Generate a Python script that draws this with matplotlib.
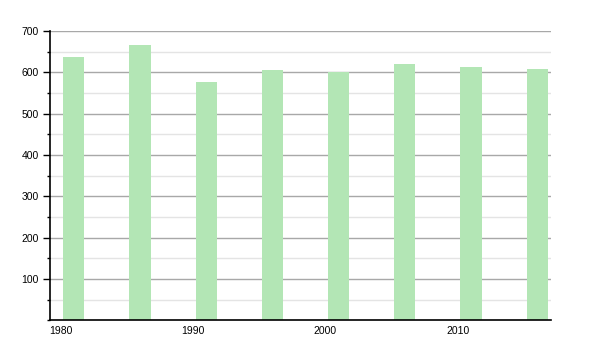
import matplotlib
matplotlib.use("Agg")
import matplotlib.pyplot as plt
from matplotlib.ticker import MultipleLocator, FixedLocator

years = [1981, 1986, 1991, 1996, 2001, 2006, 2011, 2016]
population = [638, 666, 577, 606, 600, 620, 613, 607]
x_ticks = [1980, 1990, 2000, 2010]
y_ticks = [100, 200, 300, 400, 500, 600, 700]

plt.rcParams['font.family'] = ['Liberation Sans', 'DejaVu Sans']

fig = plt.figure(figsize=(6, 3.5), dpi=100)
ax = fig.add_axes([50/600, (350-320.3)/350, 501/600, (320.3-31)/350])

ax.bar(years, population, width=1.6, color='#b3e6b5', edgecolor='none', zorder=2)

ax.set_xlim(1979.2, 2017.05)
ax.set_ylim(0, 700)
ax.set_axisbelow(True)

ax.yaxis.set_major_locator(FixedLocator(y_ticks))
ax.yaxis.set_minor_locator(MultipleLocator(50))
ax.xaxis.set_major_locator(FixedLocator(x_ticks))
ax.set_xticklabels([str(v) for v in x_ticks])
ax.set_yticklabels([str(v) for v in y_ticks])

ax.grid(axis='y', which='major', color='#a8a8a8', linewidth=1.0, zorder=0)
ax.grid(axis='y', which='minor', color='#e4e4e4', linewidth=1.0, zorder=0)

for s in ['top', 'right']:
    ax.spines[s].set_visible(False)
for s in ['left', 'bottom']:
    ax.spines[s].set_color('black')
    ax.spines[s].set_linewidth(1.2)

ax.tick_params(axis='y', which='major', length=5, width=1, pad=3, labelsize=7.5, colors='black')
ax.tick_params(axis='y', which='minor', length=2.5, width=1, colors='black')
ax.tick_params(axis='x', which='both', length=0, pad=4, labelsize=7.5, colors='black')

fig.savefig('out.png', dpi=100)
